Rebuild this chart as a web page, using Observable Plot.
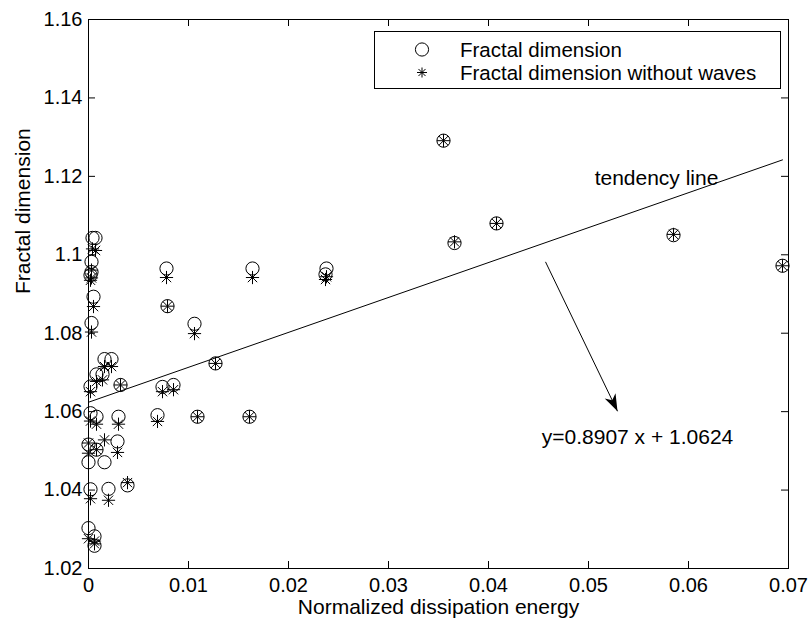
<!DOCTYPE html>
<html><head><meta charset="utf-8">
<script src="https://cdn.jsdelivr.net/npm/d3@7"></script>
<script src="https://cdn.jsdelivr.net/npm/@observablehq/plot@0.6"></script>
<style>
body{margin:0;background:#fff}
#chart{width:810px;height:627px}
</style>
</head><body><div id="chart"></div>
<script>
// Normalized dissipation energy (x) for each sample
const energy = [0.0004,0.0007,0.0003,0.0003,0.0002,0.0005,0.0003,0.0078,0.0079,0.0106,0.0127,0.0016,0.0023,0.0008,0.0014,0.0032,0.0002,0.0074,0.0085,0.0002,0.0008,0.0030,0.0069,0.0109,0.0161,0.0164,0.0238,0.0237,0.0355,0.0366,0.0408,0.0585,0.0694,0.0029,0.0000,0.0008,0.0000,0.0016,0.0002,0.0020,0.0039,0.0000,0.0006,0.0006];
// Fractal dimension (circles)
const fractalDim = [1.1043,1.1043,1.0982,1.0956,1.0948,1.0893,1.0826,1.0965,1.0869,1.0824,1.0723,1.0734,1.0734,1.0695,1.0695,1.0668,1.0664,1.0663,1.0668,1.0596,1.0587,1.0587,1.0591,1.0587,1.0587,1.0965,1.0965,1.0950,1.1291,1.1030,1.1080,1.1050,1.0972,1.0524,1.0516,1.0503,1.0471,1.0471,1.0402,1.0403,1.0412,1.0303,1.0282,1.0258];
// Fractal dimension without waves (asterisks)
const fractalDimNoWaves = [1.1015,1.1011,1.0961,1.0941,1.0935,1.0868,1.0803,1.0942,1.0869,1.0799,1.0723,1.0715,1.0715,1.0677,1.0681,1.0668,1.0651,1.0651,1.0656,1.0576,1.0568,1.0568,1.0575,1.0587,1.0587,1.0942,1.0944,1.0937,1.1291,1.1033,1.1080,1.1052,1.0972,1.0496,1.0520,1.0503,1.0494,1.0528,1.0378,1.0374,1.0419,1.0276,1.0270,1.0263];

// Tendency line y = 0.8907 x + 1.0624, drawn between these end points
const trendX = [0, 0.0694];
const trendY = [1.0624, 1.1242];

// Annotations
const trendLabel = {x: 0.0568, y: 1.1195, text: "tendency line"};
const eqLabel = {x: 0.0549, y: 1.0535, text: "y=0.8907 x + 1.0624"};
const arrowFrom = {x: 0.0457, y: 1.0982};
const arrowTo = {x: 0.0529, y: 1.0601};

// Axis ticks
const xTicks = [0, 0.01, 0.02, 0.03, 0.04, 0.05, 0.06, 0.07];
const yTicks = [1.02, 1.04, 1.06, 1.08, 1.10, 1.12, 1.14, 1.16];
const xDomain = [0, 0.07];
const yDomain = [1.02, 1.16];

const legendLabels = ["Fractal dimension", "Fractal dimension without waves"];

const W = 810, H = 627;
const mL = 88, mR = 22, mT = 19, mB = 59;
const pw = W - mL - mR, ph = H - mT - mB;
const FONT = "'Liberation Sans', Arial, Helvetica, sans-serif";
const FS = 21;      // annotation / label text
const FST = 20;     // tick labels
const FSL = 20.5;   // legend text

const points = energy.map((e, i) => ({e, fd: fractalDim[i], fdn: fractalDimNoWaves[i]}));

// MATLAB-like '*' marker: a '+' combined with an 'x'
const star8 = {
  draw(ctx, size) {
    const r = Math.sqrt(size / Math.PI);
    const d = r * Math.SQRT1_2;
    ctx.moveTo(-r, 0); ctx.lineTo(r, 0);
    ctx.moveTo(0, -r); ctx.lineTo(0, r);
    ctx.moveTo(-d, -d); ctx.lineTo(d, d);
    ctx.moveTo(-d, d); ctx.lineTo(d, -d);
  }
};
// Filled arrow head, tip at origin pointing up
const arrowHead = {
  draw(ctx, size) {
    const L = 17, w = 6;
    ctx.moveTo(0, 0);
    ctx.lineTo(-w, L);
    ctx.lineTo(0, L * 0.72);
    ctx.lineTo(w, L);
    ctx.closePath();
  }
};
const kx = pw / (xDomain[1] - xDomain[0]);
const ky = ph / (yDomain[1] - yDomain[0]);
const adx = (arrowTo.x - arrowFrom.x) * kx;
const ady = -(arrowTo.y - arrowFrom.y) * ky;
const headRot = Math.atan2(adx, -ady) * 180 / Math.PI;

const fmt = d => String(+d.toFixed(2));

const chart = Plot.plot({
  width: W, height: H,
  marginLeft: mL, marginRight: mR, marginTop: mT, marginBottom: mB,
  style: {fontFamily: FONT, fontSize: FS + "px", color: "black", background: "white", overflow: "visible"},
  x: {domain: xDomain},
  y: {domain: yDomain},
  marks: [
    Plot.frame({stroke: "black", strokeWidth: 1}),
    // inward ticks, all four sides
    Plot.tickX(xTicks, {x: d => d, insetTop: ph - 7, stroke: "black"}),
    Plot.tickX(xTicks, {x: d => d, insetBottom: ph - 7, stroke: "black"}),
    Plot.tickY(yTicks, {y: d => d, insetRight: pw - 7, stroke: "black"}),
    Plot.tickY(yTicks, {y: d => d, insetLeft: pw - 7, stroke: "black"}),
    Plot.axisX(xTicks, {tickSize: 0, tickPadding: 9, tickFormat: fmt, label: null, fontSize: FST}),
    Plot.axisY(yTicks, {tickSize: 0, tickPadding: 6, tickFormat: fmt, label: null, fontSize: FST}),
    Plot.text(["Normalized dissipation energy"], {frameAnchor: "bottom", dy: 45, fontSize: FS}),
    Plot.text(["Fractal dimension"], {frameAnchor: "left", dx: -65, rotate: -90, fontSize: FS}),
    // tendency line
    Plot.line(trendX.map((x, i) => ({x, y: trendY[i]})), {x: "x", y: "y", stroke: "black", strokeWidth: 1}),
    // data
    Plot.dot(points, {x: "e", y: "fd", r: 6.6, stroke: "black", strokeWidth: 1, fill: "none"}),
    Plot.dot(points, {x: "e", y: "fdn", r: 6.6, symbol: star8, stroke: "black", strokeWidth: 1, fill: "none"}),
    // annotations
    Plot.text([trendLabel], {x: "x", y: "y", text: "text", fontSize: FS}),
    Plot.text([eqLabel], {x: "x", y: "y", text: "text", fontSize: FS}),
    Plot.link([0], {x1: () => arrowFrom.x, y1: () => arrowFrom.y, x2: () => arrowTo.x, y2: () => arrowTo.y, stroke: "black", strokeWidth: 1}),
    Plot.dot([arrowTo], {x: "x", y: "y", symbol: arrowHead, r: 5, fill: "black", stroke: "none", rotate: headRot})
  ]
});
document.getElementById("chart").appendChild(chart);

// Legend box inside the plot (upper right)
const svg = d3.select(chart);
const lg = svg.append("g").attr("font-family", FONT).attr("font-size", FSL).attr("text-anchor", "start");
lg.append("rect").attr("x", 374.5).attr("y", 31.5).attr("width", 406).attr("height", 57)
  .attr("fill", "white").attr("stroke", "black").attr("stroke-width", 1);
const rows = [49.5, 72.5];
lg.append("circle").attr("cx", 422).attr("cy", rows[0]).attr("r", 6.6).attr("fill", "none").attr("stroke", "black");
lg.append("path").attr("transform", `translate(422,${rows[1]})`)
  .attr("d", d3.symbol(star8, Math.PI * 5 * 5)()).attr("fill", "none").attr("stroke", "black");
legendLabels.forEach((t, i) => {
  lg.append("text").attr("x", 460).attr("y", rows[i]).attr("dy", "0.35em").attr("text-anchor", "start").text(t);
});
</script>
</body></html>
